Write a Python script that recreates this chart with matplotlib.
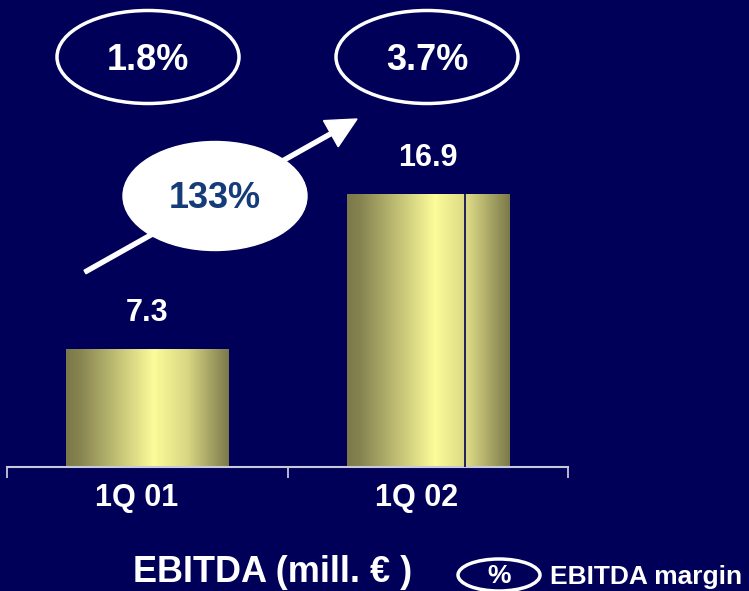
import numpy as np
import matplotlib
matplotlib.use("Agg")
import matplotlib.pyplot as plt
from matplotlib.colors import LinearSegmentedColormap
from matplotlib.patches import Ellipse

# EBITDA by quarter (million EUR) and EBITDA margin
quarters = ["1Q 01", "1Q 02"]
ebitda = [7.3, 16.9]
margins = ["1.8%", "3.7%"]
growth_label = "133%"

BG = "#000058"
WHITE = "white"
FONT = ["Liberation Sans", "DejaVu Sans"]
plt.rcParams["font.family"] = FONT

fig = plt.figure(figsize=(7.49, 5.91), dpi=100, facecolor=BG)
W, H = 749, 591

# Bar axes: baseline sits at y=467 px, spans x 7..568 px
ax = fig.add_axes([7 / W, (H - 467) / H, (568 - 7) / W, 467 / H])
ax.set_facecolor("none")
ax.set_xlim(-0.5, 1.5)
ax.set_ylim(0, max(ebitda) * 467 / 273)

x = np.arange(len(quarters))
bar_w = 0.578
bars = ax.bar(x, ebitda, width=bar_w, color="none", edgecolor="none")

# Cylinder-like horizontal gradient inside each bar
grad_cmap = LinearSegmentedColormap.from_list(
    "gold", [(0.0, "#7b794a"), (0.08, "#85834f"), (0.54, "#fcfc9a"), (0.75, "#d8d683"), (1.0, "#7b794a")])
gradient = np.linspace(0, 1, 256).reshape(1, -1)
for rect in bars:
    x0, y0 = rect.get_x(), rect.get_y()
    w, h = rect.get_width(), rect.get_height()
    im = ax.imshow(gradient, cmap=grad_cmap, aspect="auto",
                   extent=(x0, x0 + w, y0, y0 + h), zorder=2)
    im.set_clip_path(rect)

# thin divider line inside the second bar
r2 = bars[1]
xd = r2.get_x() + 0.73 * r2.get_width()
ax.plot([xd, xd], [0, ebitda[1]], color=BG, lw=1.2, zorder=3)

# value labels above bars
for xi, v in zip(x, ebitda):
    ax.annotate(f"{v:.1f}", (xi, v), xytext=(0, 26), textcoords="offset points",
                ha="center", va="center", color=WHITE, fontsize=22, fontweight="bold")

# axis styling: baseline with downward ticks at category boundaries
for s in ["top", "right", "left"]:
    ax.spines[s].set_visible(False)
ax.spines["bottom"].set_color("#c8c8dc")
ax.spines["bottom"].set_linewidth(1.5)
ax.set_yticks([])
ax.set_xticks([-0.5, 0.5, 1.5])
ax.set_xticklabels([])
ax.tick_params(axis="x", direction="out", length=8, width=1.2, color="#d8d8e8")

# category labels, set slightly left of the bar centres
for xi, q in zip(x, quarters):
    ax.annotate(q, (xi, 0), xycoords=("data", "axes fraction"),
                xytext=(-8, -22), textcoords="offset points",
                ha="center", va="center", color=WHITE, fontsize=22, fontweight="bold")

# Overlay in pixel coordinates for callouts and legend
ov = fig.add_axes([0, 0, 1, 1], zorder=5)
ov.set_xlim(0, W)
ov.set_ylim(H, 0)
ov.axis("off")
ov.patch.set_alpha(0)

# margin ellipses above each bar
for cx, txt in zip([148, 427], margins):
    ov.add_patch(Ellipse((cx, 57), 182, 93, facecolor="none", edgecolor=WHITE, lw=2.5))
    ov.text(cx, 60, txt, ha="center", va="center", color=WHITE,
            fontsize=26, fontweight="bold")

# growth arrow with filled ellipse callout
ov.arrow(85, 272, 357 - 85, 119 - 272, width=4, head_width=30, head_length=30,
         length_includes_head=True, color=WHITE, zorder=2)
ov.add_patch(Ellipse((215, 196), 184, 109, facecolor=WHITE, edgecolor=WHITE, zorder=3))
ov.text(215, 198, growth_label, ha="center", va="center", color="#153c78",
        fontsize=26, fontweight="bold", zorder=4)

# title and legend
ov.text(273, 572, "EBITDA (mill. € )", ha="center", va="center", color=WHITE,
        fontsize=26, fontweight="bold")
ov.add_patch(Ellipse((499, 575), 82, 32, facecolor="none", edgecolor=WHITE, lw=2.5))
ov.text(499, 576, "%", ha="center", va="center", color=WHITE, fontsize=19, fontweight="bold")
ov.text(550, 577, "EBITDA margin", ha="left", va="center", color=WHITE,
        fontsize=19, fontweight="bold")

fig.savefig("out.png", dpi=100, facecolor=BG)
